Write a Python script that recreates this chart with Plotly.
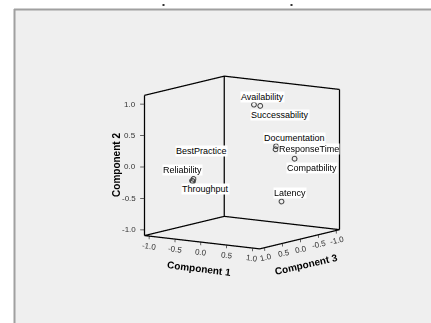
import plotly.graph_objects as go

# Rotated component loadings for each QoS attribute
attributes = ["Availability", "Successability", "Documentation", "ResponseTime",
              "Compatbility", "BestPractice", "Reliability", "Throughput", "Latency"]
component_1 = [0.16, 0.24, 0.45, 0.44, 0.69, -0.63, -0.65, -0.64, 0.52]
component_2 = [0.94, 0.92, 0.28, 0.23, 0.08, -0.24, -0.27, -0.28, -0.60]
component_3 = [-0.11, -0.17, -0.31, -0.31, -0.48, 0.44, 0.45, 0.44, -0.36]

tick_values = [-1.0, -0.5, 0.0, 0.5, 1.0]
tick_labels = ["-1.0", "-0.5", "0.0", "0.5", "1.0"]
frame_range = [-1.09, 1.14]

# pixel offsets of each point label from its marker
label_shift = {
    "Availability": (9, 8), "Successability": (20, -9), "Documentation": (19, 8),
    "ResponseTime": (34, 0), "Compatbility": (18, -9), "BestPractice": (8, 28),
    "Reliability": (-9, 11), "Throughput": (13, -8), "Latency": (9, 8),
}

W, H = 431, 323
FONT = "Liberation Sans, Arial, sans-serif"

lo, hi = frame_range
pad = 0.15
axis_range = [lo - pad, hi + pad]
mid = (lo + hi) / 2


def segments(pairs):
    xs, ys, zs = [], [], []
    for a, b in pairs:
        xs += [a[0], b[0], None]
        ys += [a[1], b[1], None]
        zs += [a[2], b[2], None]
    return xs, ys, zs


# outline of the two back walls and the floor (x = comp 3, y = comp 1, z = comp 2)
edges = [
    ((hi, lo, lo), (hi, lo, hi)), ((lo, lo, lo), (lo, lo, hi)), ((lo, hi, lo), (lo, hi, hi)),
    ((lo, lo, lo), (hi, lo, lo)), ((lo, lo, lo), (lo, hi, lo)),
    ((hi, lo, lo), (hi, hi, lo)), ((lo, hi, lo), (hi, hi, lo)),
    ((lo, lo, hi), (hi, lo, hi)), ((lo, lo, hi), (lo, hi, hi)),
]

# short tick marks pointing out of the frame
ticks = []
for v in tick_values:
    ticks.append(((hi, lo, v), (hi + 0.04, lo - 0.058, v)))
    ticks.append(((hi, v, lo), (hi, v, lo - 0.05)))
    ticks.append(((v, hi, lo), (v, hi, lo - 0.05)))

fig = go.Figure()
bx, by, bz = segments(edges)
fig.add_trace(go.Scatter3d(x=bx, y=by, z=bz, mode="lines",
                           line=dict(color="black", width=2.5),
                           hoverinfo="skip", showlegend=False))
tx, ty, tz = segments(ticks)
fig.add_trace(go.Scatter3d(x=tx, y=ty, z=tz, mode="lines",
                           line=dict(color="#333333", width=1.5),
                           hoverinfo="skip", showlegend=False))
fig.add_trace(go.Scatter3d(x=component_3, y=component_1, z=component_2,
                           mode="markers", text=attributes,
                           marker=dict(symbol="circle-open", size=3,
                                       color="#333333", line=dict(width=1)),
                           hoverinfo="text", showlegend=False))

annotations = []
for name, c1, c2, c3 in zip(attributes, component_1, component_2, component_3):
    dx, dy = label_shift[name]
    annotations.append(dict(x=c3, y=c1, z=c2, text=name, showarrow=False,
                            xshift=dx, yshift=dy, bgcolor="white",
                            borderpad=0, font=dict(family=FONT, size=9, color="black")))

# tick labels along the three framed edges
tick_font = dict(family=FONT, size=8, color="#333333")
for v, t in zip(tick_values, tick_labels):
    # Component 2 on the left vertical edge
    annotations.append(dict(x=hi, y=lo, z=v, text=t, showarrow=False,
                            xanchor="right", xshift=-7, font=tick_font))
    # Component 1 on the front-left floor edge
    annotations.append(dict(x=hi, y=v, z=lo, text=t, showarrow=False,
                            yshift=-10, textangle=8, font=tick_font))
    # Component 3 on the front-right floor edge
    annotations.append(dict(x=v, y=hi, z=lo, text=t, showarrow=False,
                            xshift=1, yshift=-10, textangle=-12, font=tick_font))

# axis titles
title_font = dict(family=FONT, size=10, color="black", weight="bold")
annotations += [
    dict(x=hi, y=lo, z=mid, text="Component 2", showarrow=False,
         textangle=-90, xshift=-28, yshift=0, font=title_font),
    dict(x=hi, y=mid, z=lo, text="Component 1", showarrow=False,
         textangle=7, xshift=-3, yshift=-26, font=title_font),
    dict(x=mid, y=hi, z=lo, text="Component 3", showarrow=False,
         textangle=-13, xshift=6, yshift=-25, font=title_font),
]


def axis():
    return dict(range=axis_range, showticklabels=False, ticks="",
                showgrid=False, zeroline=False, showbackground=False,
                showline=False, showspikes=False, title=dict(text=""))


box_scale = 0.873 * (axis_range[1] - axis_range[0]) / (hi - lo)

fig.update_layout(
    width=W, height=H, margin=dict(l=0, r=0, t=0, b=0),
    paper_bgcolor="white",
    font=dict(family=FONT),
    shapes=[
        dict(type="rect", xref="paper", yref="paper", layer="below",
             x0=14 / W, x1=1.01, y0=-0.01, y1=1 - 9 / H,
             fillcolor="#efefef", line=dict(width=0)),
        dict(type="line", xref="paper", yref="paper", x0=14.5 / W, x1=14.5 / W,
             y0=0, y1=1 - 9 / H, line=dict(color="#a0a0a0", width=2)),
        dict(type="line", xref="paper", yref="paper", x0=14 / W, x1=1,
             y0=1 - 9.5 / H, y1=1 - 9.5 / H, line=dict(color="#a0a0a0", width=2)),
        dict(type="rect", xref="paper", yref="paper", x0=162.5 / W, x1=164.5 / W,
             y0=1 - 6 / H, y1=1 - 4 / H, fillcolor="#333333", line=dict(width=0)),
        dict(type="rect", xref="paper", yref="paper", x0=290.5 / W, x1=292.5 / W,
             y0=1 - 6 / H, y1=1 - 4 / H, fillcolor="#333333", line=dict(width=0)),
    ],
    scene=dict(
        domain=dict(x=[0.123, 1.0], y=[0.0, 0.994]),
        xaxis=axis(),
        yaxis=axis(),
        zaxis=axis(),
        aspectmode="manual",
        aspectratio=dict(x=box_scale, y=box_scale, z=box_scale * 1.015),
        bgcolor="rgba(0,0,0,0)",
        camera=dict(eye=dict(x=0.807 * 2.0, y=0.559 * 2.0, z=0.166 * 2.0),
                    up=dict(x=0, y=0, z=1), center=dict(x=0, y=0, z=0),
                    projection=dict(type="orthographic")),
        annotations=annotations,
    ),
)

fig.write_html("out.html", config={"displayModeBar": False})
